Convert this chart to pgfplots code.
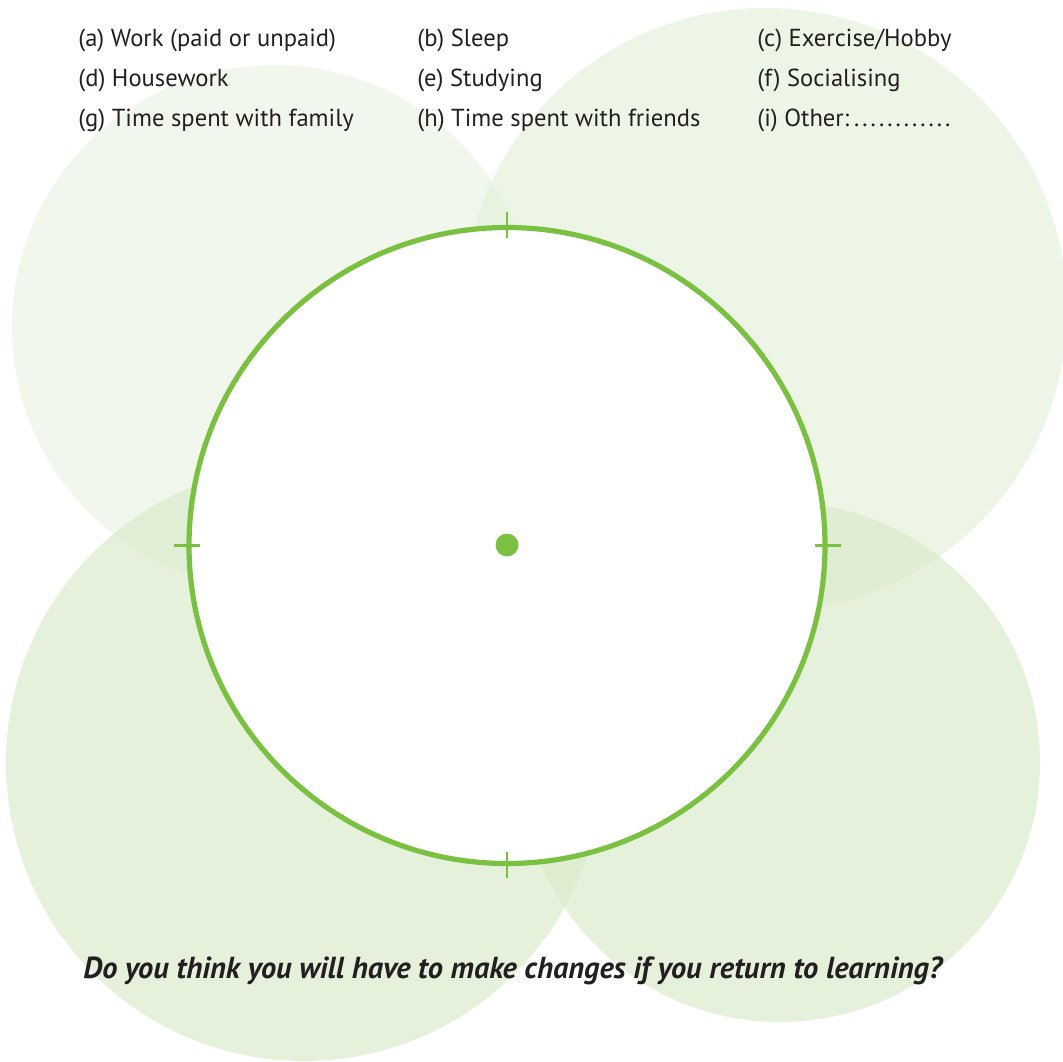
\documentclass[border=0pt]{standalone}
\usepackage{fontspec}
\setmainfont{PT Sans}
\usepackage{pgfplots}
\pgfplotsset{compat=1.18}
\definecolor{lgreen}{RGB}{122,193,66}
\definecolor{cTL}{RGB}{235,243,229}
\definecolor{cTR}{RGB}{228,240,217}
\definecolor{cB}{RGB}{217,234,201}
\definecolor{txt}{RGB}{35,31,32}
\newcommand{\dt}{.\hspace{1.5pt}}
\begin{document}
\begin{tikzpicture}
\useasboundingbox (0,0) rectangle (531.5pt,530.5pt);
\begin{axis}[at={(0,0)}, anchor=south west,
  width=531.5pt, height=530.5pt, scale only axis,
  xmin=0, xmax=1063, ymin=0, ymax=1061, y dir=reverse,
  hide axis, clip=true]
% background circles
\fill[cTL, fill opacity=0.65] (axis cs:274,327) circle[radius=131pt];
\fill[cTR, fill opacity=0.65] (axis cs:765,310) circle[radius=151pt];
\fill[cB, fill opacity=0.65] (axis cs:304,763) circle[radius=149pt];
\fill[cB, fill opacity=0.65] (axis cs:780,762) circle[radius=130pt];
% main circle
\draw[lgreen, line width=2.6pt, fill=white] (axis cs:507,545.5) circle[radius=159pt];
% ticks
\draw[lgreen, line width=1.2pt] (axis cs:507,212) -- (axis cs:507,238);
\draw[lgreen, line width=1.2pt] (axis cs:507,852) -- (axis cs:507,878);
\draw[lgreen, line width=1.2pt] (axis cs:174,545.5) -- (axis cs:200,545.5);
\draw[lgreen, line width=1.2pt] (axis cs:815,545.5) -- (axis cs:841,545.5);
% centre dot
\addplot[only marks, mark=*, mark size=5.5pt, lgreen, mark options={draw=lgreen, fill=lgreen}] coordinates {(507,545)};
% labels
\begin{scope}[every node/.style={anchor=base west, inner sep=0pt, text=txt, font=\fontsize{12.3}{14}\selectfont}]
\node at (axis cs:78,46) {(a) Work (paid or unpaid)};
\node at (axis cs:417,46) {(b) Sleep};
\node at (axis cs:757,46) {(c) Exercise/Hobby};
\node at (axis cs:78,86) {(d) Housework};
\node at (axis cs:417,86) {(e) Studying};
\node at (axis cs:757,86) {(f) Socialising};
\node at (axis cs:78,126) {(g) Time spent with family};
\node at (axis cs:417,126) {(h) Time spent with friends};
\node at (axis cs:757,126) {(i) Other:\hspace{2.5pt}\dt\dt\dt\dt\dt\dt\dt\dt\dt\dt\dt.};
\end{scope}
\node[anchor=base west, inner sep=0pt, text=txt, font=\bfseries\itshape\fontsize{15.2}{18}\selectfont] at (axis cs:83,978) {Do you think you will have to make changes if you return to learning?};
\end{axis}
\end{tikzpicture}
\end{document}
